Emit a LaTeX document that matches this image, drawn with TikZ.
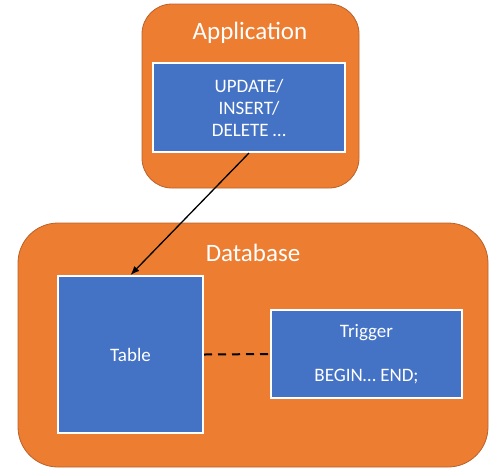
\documentclass[tikz,border=0pt]{standalone}
\usepackage{fontspec}
\setmainfont{Carlito}
\usetikzlibrary{arrows.meta,positioning}
\definecolor{pptorange}{HTML}{ED7D31}
\definecolor{pptorangeline}{HTML}{B9622A}
\definecolor{pptblue}{HTML}{4472C4}

\tikzset{
  outerbox/.style={draw=pptorangeline,line width=0.8pt,fill=pptorange,rounded corners=#1,inner sep=0pt},
  innerbox/.style={draw=white,line width=2pt,fill=pptblue,text=white,inner sep=0pt,align=center,
    font=\fontsize{19pt}{22pt}\selectfont},
  boxtitle/.style={text=white,font=\fontsize{25pt}{28pt}\selectfont,inner sep=0pt}
}

\begin{document}
\begin{tikzpicture}[x=1pt,y=-1pt]
	\useasboundingbox (0,0) rectangle (497,475);
	% application side
	\node[outerbox=30pt,minimum width=217pt,minimum height=184pt] (app) at (250.5,96) {};
	\node[boxtitle] (apptitle) at (250,33) {Application};
	\node[innerbox,minimum width=192pt,minimum height=89pt] (query) at (249,107.5)
		{UPDATE/\\INSERT/\\DELETE …};
	% database side
	\node[outerbox=40pt,minimum width=470pt,minimum height=244pt] (db) at (253,345) {};
	\node[boxtitle] (dbtitle) at (253,253) {Database};
	\node[innerbox,minimum width=145pt,minimum height=157pt] (table) at (130.5,354.5) {Table};
	\node[innerbox,minimum width=191pt,minimum height=88pt] (trigger) at (366.5,354)
		{Trigger\\[22pt]BEGIN… END;};
	
	\draw[line width=1.3pt,-{Latex[length=9pt,width=7pt]}] (query.south) -- (table.north);
	\draw[line width=2pt,dash pattern=on 8pt off 6pt] (table.east) -- (trigger.west);
	
\end{tikzpicture}
\end{document}
